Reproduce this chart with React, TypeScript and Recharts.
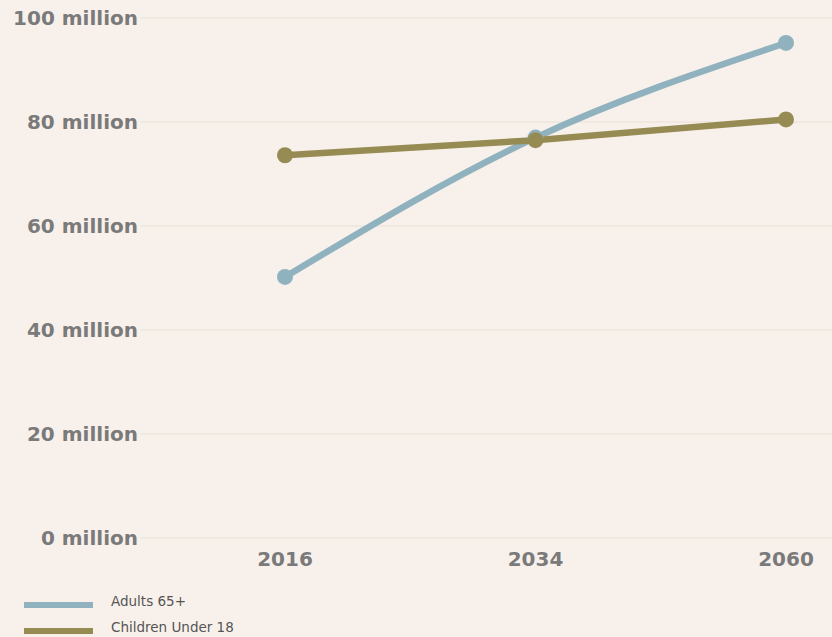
import { LineChart, Line, XAxis, YAxis, CartesianGrid } from 'recharts';

// Projected US population, in millions
const years = ['2016', '2034', '2060'];
const adults65 = [50.2, 77.0, 95.2];
const childrenUnder18 = [73.6, 76.5, 80.5];
const yTicks = [0, 20, 40, 60, 80, 100];

const BLUE = '#90b2bf';
const OLIVE = '#978b54';
const BG = '#f8f1eb';

const chartData = years.map((year, i) => ({
  year,
  adults: adults65[i],
  children: childrenUnder18[i],
}));

const legendItems = [
  { label: 'Adults 65+', color: BLUE },
  { label: 'Children Under 18', color: OLIVE },
];

const tickStyle = {
  fill: '#7a7a7a',
  fontSize: 20,
  fontWeight: 700,
  fontFamily: 'DejaVu Sans',
};

export default function App() {
  return (
    <div
      style={{
        position: 'absolute',
        left: 0,
        top: 0,
        width: 832,
        height: 637,
        background: BG,
        overflow: 'hidden',
      }}
    >
      <LineChart
        width={832}
        height={580}
        data={chartData}
        margin={{ top: 18, right: 0, left: 0, bottom: 0 }}
      >
        <CartesianGrid vertical={false} stroke="#efe6dc" strokeWidth={1.5} />
        <XAxis
          dataKey="year"
          axisLine={false}
          tickLine={false}
          padding={{ left: 145, right: 46 }}
          tick={tickStyle}
          tickMargin={8}
          height={42}
        />
        <YAxis
          domain={[0, 100]}
          ticks={yTicks}
          axisLine={false}
          tickLine={false}
          width={140}
          tickSize={2}
          tickMargin={0}
          tick={tickStyle}
          tickFormatter={(v: number) => `${v} million`}
        />
        <Line
          type="monotone"
          dataKey="adults"
          stroke={BLUE}
          strokeWidth={6.5}
          dot={{ r: 8, fill: BLUE, stroke: 'none' }}
          isAnimationActive={false}
        />
        <Line
          type="linear"
          dataKey="children"
          stroke={OLIVE}
          strokeWidth={6.5}
          dot={{ r: 8, fill: OLIVE, stroke: 'none' }}
          isAnimationActive={false}
        />
      </LineChart>
      <div style={{ position: 'absolute', left: 24, top: 588, fontFamily: 'DejaVu Sans', fontSize: 13.5, color: '#555' }}>
        {legendItems.map((item) => (
          <div key={item.label} style={{ display: 'flex', alignItems: 'center', height: 26 }}>
            <div style={{ width: 69, height: 6, background: item.color, marginTop: 8, marginRight: 18 }} />
            <span>{item.label}</span>
          </div>
        ))}
      </div>
    </div>
  );
}
